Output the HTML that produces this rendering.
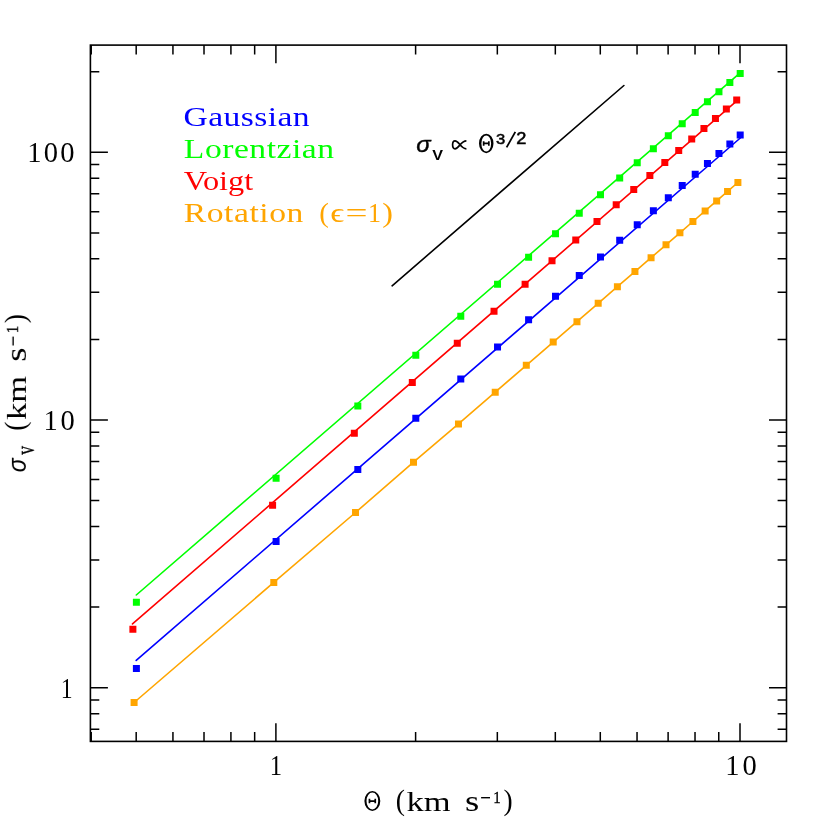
<!DOCTYPE html><html><head><meta charset="utf-8"><title>chart</title><style>html,body{margin:0;padding:0;background:#fff}svg{display:block}</style></head><body><svg width="830" height="830" viewBox="0 0 830 830">
<rect width="830" height="830" fill="#fff"/>
<path d="M91.22 741.40v-9.4M91.22 45.10v9.4M136.19 741.40v-9.4M136.19 45.10v9.4M172.94 741.40v-9.4M172.94 45.10v9.4M204.01 741.40v-9.4M204.01 45.10v9.4M230.92 741.40v-9.4M230.92 45.10v9.4M254.66 741.40v-9.4M254.66 45.10v9.4M275.90 741.40v-18.2M275.90 45.10v18.2M415.61 741.40v-9.4M415.61 45.10v9.4M497.33 741.40v-9.4M497.33 45.10v9.4M555.32 741.40v-9.4M555.32 45.10v9.4M600.29 741.40v-9.4M600.29 45.10v9.4M637.04 741.40v-9.4M637.04 45.10v9.4M668.11 741.40v-9.4M668.11 45.10v9.4M695.02 741.40v-9.4M695.02 45.10v9.4M718.76 741.40v-9.4M718.76 45.10v9.4M740.00 741.40v-18.2M740.00 45.10v18.2M90.40 729.17h8.9M786.50 729.17h-8.9M90.40 713.64h8.9M786.50 713.64h-8.9M90.40 699.95h8.9M786.50 699.95h-8.9M90.40 687.70h17.5M786.50 687.70h-17.5M90.40 607.11h8.9M786.50 607.11h-8.9M90.40 559.97h8.9M786.50 559.97h-8.9M90.40 526.53h8.9M786.50 526.53h-8.9M90.40 500.59h8.9M786.50 500.59h-8.9M90.40 479.39h8.9M786.50 479.39h-8.9M90.40 461.47h8.9M786.50 461.47h-8.9M90.40 445.94h8.9M786.50 445.94h-8.9M90.40 432.25h8.9M786.50 432.25h-8.9M90.40 420.00h17.5M786.50 420.00h-17.5M90.40 339.41h8.9M786.50 339.41h-8.9M90.40 292.27h8.9M786.50 292.27h-8.9M90.40 258.83h8.9M786.50 258.83h-8.9M90.40 232.89h8.9M786.50 232.89h-8.9M90.40 211.69h8.9M786.50 211.69h-8.9M90.40 193.77h8.9M786.50 193.77h-8.9M90.40 178.24h8.9M786.50 178.24h-8.9M90.40 164.55h8.9M786.50 164.55h-8.9M90.40 152.30h17.5M786.50 152.30h-17.5M90.40 71.71h8.9M786.50 71.71h-8.9" stroke="#000" stroke-width="1.5" fill="none"/>
<rect x="90.4" y="45.1" width="696.10" height="696.30" fill="none" stroke="#000" stroke-width="1.6"/>
<path d="M392.1 285.8L623.9 85.5" stroke="#000" stroke-width="1.6" stroke-linecap="round" fill="none"/>
<path d="M136.2 660.4L740.3 138.0" stroke="#0000ff" stroke-width="1.6" stroke-linecap="round" stroke-linejoin="round" fill="none"/>
<path d="M132.89 665.10h7.0v7.0h-7.0zM272.60 537.90h7.0v7.0h-7.0zM354.32 465.90h7.0v7.0h-7.0zM412.31 414.80h7.0v7.0h-7.0zM457.28 375.51h7.0v7.0h-7.0zM494.03 343.40h7.0v7.0h-7.0zM525.10 316.26h7.0v7.0h-7.0zM552.02 292.75h7.0v7.0h-7.0zM575.76 272.01h7.0v7.0h-7.0zM596.99 253.45h7.0v7.0h-7.0zM616.20 236.67h7.0v7.0h-7.0zM633.74 221.35h7.0v7.0h-7.0zM649.87 207.25h7.0v7.0h-7.0zM664.81 194.21h7.0v7.0h-7.0zM678.72 182.06h7.0v7.0h-7.0zM691.72 170.69h7.0v7.0h-7.0zM703.94 160.02h7.0v7.0h-7.0zM715.46 149.95h7.0v7.0h-7.0zM726.36 140.43h7.0v7.0h-7.0zM736.70 131.40h7.0v7.0h-7.0z" fill="#0000ff"/>
<path d="M136.3 595.0L740.1 72.8" stroke="#00ff00" stroke-width="1.6" stroke-linecap="round" stroke-linejoin="round" fill="none"/>
<path d="M132.89 598.70h7.0v7.0h-7.0zM272.60 474.80h7.0v7.0h-7.0zM354.32 402.50h7.0v7.0h-7.0zM412.31 351.70h7.0v7.0h-7.0zM457.28 312.63h7.0v7.0h-7.0zM494.03 280.71h7.0v7.0h-7.0zM525.10 253.72h7.0v7.0h-7.0zM552.02 230.34h7.0v7.0h-7.0zM575.76 209.71h7.0v7.0h-7.0zM596.99 191.26h7.0v7.0h-7.0zM616.20 174.58h7.0v7.0h-7.0zM633.74 159.34h7.0v7.0h-7.0zM649.87 145.33h7.0v7.0h-7.0zM664.81 132.35h7.0v7.0h-7.0zM678.72 120.27h7.0v7.0h-7.0zM691.72 108.97h7.0v7.0h-7.0zM703.94 98.36h7.0v7.0h-7.0zM715.46 88.35h7.0v7.0h-7.0zM726.36 78.88h7.0v7.0h-7.0zM736.70 69.90h7.0v7.0h-7.0z" fill="#00ff00"/>
<path d="M132.5 623.9L736.8 100.8" stroke="#ff0000" stroke-width="1.6" stroke-linecap="round" stroke-linejoin="round" fill="none"/>
<path d="M129.39 625.80h7.0v7.0h-7.0zM269.10 501.80h7.0v7.0h-7.0zM350.82 429.80h7.0v7.0h-7.0zM408.81 378.90h7.0v7.0h-7.0zM453.78 339.73h7.0v7.0h-7.0zM490.53 307.73h7.0v7.0h-7.0zM521.60 280.67h7.0v7.0h-7.0zM548.52 257.23h7.0v7.0h-7.0zM572.26 236.56h7.0v7.0h-7.0zM593.49 218.07h7.0v7.0h-7.0zM612.70 201.34h7.0v7.0h-7.0zM630.24 186.06h7.0v7.0h-7.0zM646.37 172.01h7.0v7.0h-7.0zM661.31 159.01h7.0v7.0h-7.0zM675.22 146.90h7.0v7.0h-7.0zM688.22 135.57h7.0v7.0h-7.0zM700.44 124.93h7.0v7.0h-7.0zM711.96 114.89h7.0v7.0h-7.0zM722.86 105.40h7.0v7.0h-7.0zM733.20 96.40h7.0v7.0h-7.0z" fill="#ff0000"/>
<path d="M134.09 702.50L273.80 582.40L355.52 512.50L413.51 462.20L458.48 423.90L495.23 392.18L526.30 365.36L553.22 342.12L576.96 321.63L598.19 303.30L617.40 286.73L634.94 271.60L651.07 257.68L666.01 244.80L679.92 232.80L692.92 221.52L705.14 210.92L716.66 200.92L727.56 191.47L737.90 182.50" stroke="#ffa500" stroke-width="1.6" stroke-linecap="round" stroke-linejoin="round" fill="none"/>
<path d="M130.59 699.00h7.0v7.0h-7.0zM270.30 578.90h7.0v7.0h-7.0zM352.02 509.00h7.0v7.0h-7.0zM410.01 458.70h7.0v7.0h-7.0zM454.98 420.40h7.0v7.0h-7.0zM491.73 388.68h7.0v7.0h-7.0zM522.80 361.86h7.0v7.0h-7.0zM549.72 338.62h7.0v7.0h-7.0zM573.46 318.13h7.0v7.0h-7.0zM594.69 299.80h7.0v7.0h-7.0zM613.90 283.23h7.0v7.0h-7.0zM631.44 268.10h7.0v7.0h-7.0zM647.57 254.18h7.0v7.0h-7.0zM662.51 241.30h7.0v7.0h-7.0zM676.42 229.30h7.0v7.0h-7.0zM689.42 218.02h7.0v7.0h-7.0zM701.64 207.42h7.0v7.0h-7.0zM713.16 197.42h7.0v7.0h-7.0zM724.06 187.97h7.0v7.0h-7.0zM734.40 179.00h7.0v7.0h-7.0z" fill="#ffa500"/>
<g opacity="0.999">
<text transform="translate(27.25,162.00) scale(1.0000,1.0000)" font-family="Liberation Serif, serif" font-size="28.5" fill="#000" letter-spacing="2.192">100</text>
<text transform="translate(43.55,429.70) scale(1.0000,1.0000)" font-family="Liberation Serif, serif" font-size="28.5" fill="#000" letter-spacing="2.734">10</text>
<text transform="translate(60.76,697.50) scale(0.8326,1.0000)" font-family="Liberation Serif, serif" font-size="28.5" fill="#000" letter-spacing="0.000">1</text>
<text transform="translate(269.69,775.00) scale(0.8623,1.0000)" font-family="Liberation Serif, serif" font-size="28.5" fill="#000" letter-spacing="0.000">1</text>
<text transform="translate(725.25,775.00) scale(1.0000,1.0000)" font-family="Liberation Serif, serif" font-size="28.5" fill="#000" letter-spacing="3.034">10</text>
<text transform="translate(183.46,126.00) scale(1.2000,1.0000)" font-family="Liberation Serif, serif" font-size="28" fill="#0000ff" letter-spacing="0.362">Gaussian</text>
<text transform="translate(183.86,158.00) scale(1.2000,1.0000)" font-family="Liberation Serif, serif" font-size="28" fill="#00ff00" letter-spacing="0.440">Lorentzian</text>
<text transform="translate(183.78,190.00) scale(1.1548,1.0000)" font-family="Liberation Serif, serif" font-size="28" fill="#ff0000" letter-spacing="0.000">Voigt</text>
<text transform="translate(183.76,222.00) scale(1.2000,1.0000)" font-family="Liberation Serif, serif" font-size="28" fill="#ffa500" letter-spacing="0.475">Rotation</text>
<text transform="translate(319.29,222.00) scale(1.0302,1.0000)" font-family="Liberation Serif, serif" font-size="28" fill="#ffa500" letter-spacing="0.000">(</text>
<text transform="translate(330.29,222.00) scale(1.2283,1.0000)" font-family="Liberation Serif, serif" font-size="28" fill="#ffa500" letter-spacing="0.000">ϵ</text>
<text transform="translate(345.42,222.00) scale(1.3965,1.0000)" font-family="Liberation Serif, serif" font-size="28" fill="#ffa500" letter-spacing="0.000">=</text>
<text transform="translate(368.06,222.00) scale(0.9282,1.0000)" font-family="Liberation Serif, serif" font-size="28" fill="#ffa500" letter-spacing="0.000">1</text>
<text transform="translate(382.37,222.00) scale(1.1489,1.0000)" font-family="Liberation Serif, serif" font-size="28" fill="#ffa500" letter-spacing="0.000">)</text>
<path d="M364.40 801.05a7.95 9.95 0 1 0 15.90 0a7.95 9.95 0 1 0 -15.90 0zM366.50 801.05a5.85 8.50 0 1 0 11.70 0a5.85 8.50 0 1 0 -11.70 0z" fill="#000" fill-rule="evenodd"/><path d="M369.45 801.05h5.80M369.45 798.75v4.60M375.25 798.75v4.60" stroke="#000" stroke-width="1.7" fill="none"/>
<text transform="translate(395.84,810.11) scale(0.9890,1.0762)" font-family="Liberation Serif, serif" font-size="28" fill="#000" letter-spacing="0.000">(</text><text transform="translate(406.58,810.60) scale(1.2325,0.9932)" font-family="Liberation Serif, serif" font-size="28" fill="#000" letter-spacing="0.000">km</text><text transform="translate(464.94,810.71) scale(1.3080,1.0448)" font-family="Liberation Serif, serif" font-size="28" fill="#000" letter-spacing="0.000">s</text><path d="M481.10 797.70h8.9" stroke="#000" stroke-width="1.4" fill="none"/><text transform="translate(493.31,802.70) scale(0.8807,1.0160)" font-family="Liberation Serif, serif" font-size="17" fill="#000" stroke="#000" stroke-width="0.3" letter-spacing="0.000">1</text><text transform="translate(503.42,809.76) scale(0.9828,1.0683)" font-family="Liberation Serif, serif" font-size="28" fill="#000" letter-spacing="0.000">)</text>
<g transform="translate(25.9,470) rotate(-90)">
<text transform="translate(-2.14,-0.15) scale(0.9658,1.0378)" font-family="Liberation Sans, sans-serif" font-style="italic" font-size="24" fill="#000" letter-spacing="0.000">σ</text>
<text transform="translate(15.20,7.64) scale(0.6286,0.9347)" font-family="Liberation Serif, serif" font-size="28" fill="#000" stroke="#000" stroke-width="0.3" letter-spacing="0.000">v</text>
<text transform="translate(39.24,-0.86) scale(0.9890,1.0880)" font-family="Liberation Serif, serif" font-size="28" fill="#000" letter-spacing="0.000">(</text><text transform="translate(49.98,0.10) scale(1.2325,0.9932)" font-family="Liberation Serif, serif" font-size="28" fill="#000" letter-spacing="0.000">km</text><text transform="translate(108.34,0.21) scale(1.3080,1.0448)" font-family="Liberation Serif, serif" font-size="28" fill="#000" letter-spacing="0.000">s</text><path d="M124.50 -12.80h8.9" stroke="#000" stroke-width="1.4" fill="none"/><text transform="translate(136.71,-7.80) scale(0.8807,1.0160)" font-family="Liberation Serif, serif" font-size="17" fill="#000" stroke="#000" stroke-width="0.3" letter-spacing="0.000">1</text><text transform="translate(146.82,-1.21) scale(0.9828,1.0801)" font-family="Liberation Serif, serif" font-size="28" fill="#000" letter-spacing="0.000">)</text>
</g>
<text transform="translate(416.34,152.37) scale(0.9934,0.9526)" font-family="Liberation Sans, sans-serif" font-style="italic" font-size="24" fill="#000" stroke="#000" stroke-width="0.45" letter-spacing="0.000">σ</text>
<text transform="translate(432.30,160.00) scale(1.0561,1.0000)" font-family="Liberation Sans, sans-serif" font-weight="bold" font-size="15.3" fill="#000" letter-spacing="0.000">V</text>
<path d="M466.4 140.9C463.4 140.9 461.4 143.2 459.6 145.4C458 147.4 456.8 148.8 455 148.8C453.3 148.8 452.6 147 452.6 144.85C452.6 142.7 453.3 140.9 455 140.9C456.8 140.9 458 142.3 459.6 144.3C461.4 146.5 463.4 148.8 466.4 148.8" fill="none" stroke="#000" stroke-width="1.7"/>
<path d="M479.00 143.45a7.25 9.75 0 1 0 14.50 0a7.25 9.75 0 1 0 -14.50 0zM481.40 143.45a4.85 8.05 0 1 0 9.70 0a4.85 8.05 0 1 0 -9.70 0z" fill="#000" fill-rule="evenodd"/><path d="M483.65 143.45h5.20M483.65 141.15v4.60M488.85 141.15v4.60" stroke="#000" stroke-width="1.7" fill="none"/>
<text transform="translate(495.97,144.34) scale(1.1064,1.0358)" font-family="Liberation Sans, sans-serif" font-size="15" fill="#000" stroke="#000" stroke-width="0.5" letter-spacing="0.000">3</text>
<path d="M506.6 147.4L515.3 131.9" stroke="#000" stroke-width="1.8" fill="none"/>
<text transform="translate(516.29,144.40) scale(1.2135,1.0411)" font-family="Liberation Sans, sans-serif" font-size="15" fill="#000" stroke="#000" stroke-width="0.5" letter-spacing="0.000">2</text>
</g></svg></body></html>
